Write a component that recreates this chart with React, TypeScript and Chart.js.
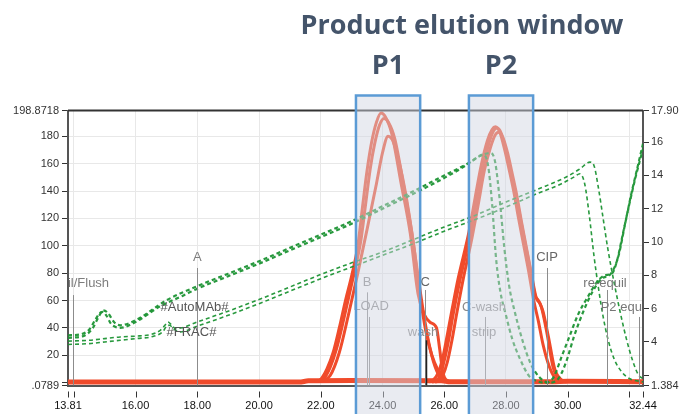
import { useEffect, useRef } from 'react';
import { Chart, registerables } from 'chart.js';

Chart.register(...registerables);

// ---------- axis ticks ----------
const xTicks = [13.81, 14, 16, 18, 20, 22, 24, 26, 28, 30, 32, 32.44];
const xTickLabels = ['13.81', '', '16.00', '18.00', '20.00', '22.00', '24.00', '26.00', '28.00', '30.00', '', '32.44'];
const yTicks = [-2.08, 0, 20, 40, 60, 80, 100, 120, 140, 160, 180, 198.8718];
const yTickLabels = ['.0789', '', '20', '40', '60', '80', '100', '120', '140', '160', '180', '198.8718'];
const y1Ticks = [1.384, 2, 4, 6, 8, 10, 12, 14, 16, 17.9];
const y1TickLabels = ['1.384', '', '4', '6', '8', '10', '12', '14', '16', '17.90'];

// ---------- UV traces (left axis) ----------
const baseX = [13.81, 21.3, 21.6, 23.0, 25.9, 26.2, 29.5, 30.0, 32.44];
const baseY = [0.4, 0.4, 1.3, 1.5, 1.3, 0.6, 0.6, 1.0, 0.6];

const r1aX = [21.8, 22.0, 22.2, 22.4, 22.6, 22.8, 23.0, 23.2, 23.35, 23.5, 23.65, 23.8, 23.95, 24.1, 24.3, 24.6, 24.9, 25.15, 25.35, 25.55, 25.75, 25.85, 25.95, 26.1, 26.3];
const r1aY = [0.8, 2.5, 10, 22, 40, 60, 78, 100, 128, 155, 176, 190, 197, 194, 182, 146, 109, 65, 50, 44, 40, 25, 8, 1.5, 0.5];
const r1bX = [22.0, 22.3, 22.6, 22.9, 23.2, 23.5, 23.8, 24.0, 24.18, 24.35, 24.55, 24.75, 24.95, 25.15, 25.35, 25.55, 25.75, 25.95, 26.2];
const r1bY = [0.8, 5, 22, 50, 80, 112, 145, 168, 180, 176, 160, 138, 110, 78, 48, 24, 9, 2, 0.5];
const r1cX = [21.9, 22.1, 22.3, 22.5, 22.7, 22.9, 23.1, 23.3, 23.45, 23.6, 23.75, 23.9, 24.05, 24.2, 24.4, 24.7, 25.0, 25.2, 25.4, 25.6, 25.8, 26.0, 26.2];
const r1cY = [0.8, 3, 11, 24, 42, 62, 82, 104, 130, 156, 175, 188, 193, 190, 178, 142, 102, 66, 38, 20, 9, 2, 0.5];

const r2aX = [25.6, 25.75, 25.86, 26.0, 26.15, 26.29, 26.5, 26.84, 27.05, 27.26, 27.45, 27.6, 27.71, 27.85, 28.0, 28.13, 28.3, 28.46, 28.62, 28.78, 28.94, 29.05, 29.15, 29.33, 29.53, 29.75, 29.95];
const r2aY = [0.5, 1.5, 5, 16, 32, 50, 74, 108, 133, 157, 175, 184, 186, 182, 170, 157, 140, 121, 102, 84, 64, 60, 55, 36, 11, 2, 0.5];
const r2bX = [25.7, 25.85, 25.95, 26.1, 26.25, 26.4, 26.6, 26.9, 27.1, 27.3, 27.5, 27.65, 27.77, 27.9, 28.05, 28.2, 28.35, 28.5, 28.66, 28.82, 28.98, 29.1, 29.2, 29.38, 29.58, 29.8, 30.0];
const r2bY = [0.5, 1.5, 5, 15, 31, 50, 74, 106, 130, 155, 172, 181, 183, 179, 168, 153, 137, 118, 99, 80, 62, 58, 52, 33, 10, 2, 0.5];
const r2cX = [25.5, 25.65, 25.8, 25.95, 26.1, 26.25, 26.45, 26.8, 27.0, 27.2, 27.4, 27.55, 27.66, 27.8, 27.95, 28.1, 28.25, 28.4, 28.57, 28.73, 28.9, 29.05, 29.2, 29.4, 29.6, 29.8];
const r2cY = [0.5, 2, 7, 18, 35, 53, 76, 110, 135, 159, 177, 185, 187, 183, 171, 156, 140, 121, 101, 82, 60, 45, 28, 12, 3, 0.5];

// ---------- conductivity traces (right axis) ----------
const g1X = [13.81, 14.2, 14.5, 14.7, 14.85, 14.95, 15.05, 15.2, 15.35, 15.5, 16.0, 16.8, 17.5, 18.0, 19.0, 20.0, 21.0, 22.0, 23.0, 24.0, 25.0, 26.0, 26.7, 27.0, 27.25, 27.42, 27.55, 27.68, 27.82, 28.0, 28.2, 28.45, 28.75, 29.0, 29.3, 29.55, 29.8, 30.05, 30.35, 30.65, 30.95, 31.2, 31.45, 31.6, 31.8, 32.0, 32.2, 32.44];
const g1Y = [4.4, 4.45, 4.75, 5.35, 5.75, 5.8, 5.6, 5.1, 4.9, 4.85, 5.2, 6.15, 6.75, 7.2, 7.95, 8.7, 9.5, 10.3, 11.1, 12.0, 12.9, 13.85, 14.6, 15.0, 15.25, 14.6, 12.3, 9.0, 7.0, 5.6, 4.2, 3.0, 1.95, 1.65, 1.55, 1.9, 3.1, 4.3, 5.7, 6.7, 7.6, 8.0, 8.15, 8.9, 10.6, 12.3, 13.9, 15.6];
const g2X = [13.81, 14.3, 14.6, 14.8, 14.95, 15.1, 15.3, 15.5, 16.0, 17.0, 18.0, 19.0, 20.0, 21.0, 22.0, 23.0, 24.0, 25.0, 26.0, 26.8, 27.2, 27.5, 27.65, 27.8, 27.95, 28.1, 28.3, 28.55, 28.8, 29.1, 29.4, 29.7, 29.95, 30.2, 30.5, 30.8, 31.1, 31.4, 31.65, 31.85, 32.05, 32.25, 32.44];
const g2Y = [4.25, 4.35, 4.8, 5.5, 5.9, 5.75, 5.2, 5.0, 5.3, 6.5, 7.35, 8.1, 8.85, 9.65, 10.45, 11.25, 12.15, 13.05, 14.0, 14.75, 15.2, 15.35, 14.8, 12.5, 9.6, 7.4, 5.7, 4.0, 2.7, 1.85, 1.55, 1.8, 2.8, 4.3, 5.8, 7.0, 7.8, 8.1, 9.2, 11.0, 12.8, 14.4, 15.9];
const g3X = [13.81, 14.5, 15.0, 15.5, 16.0, 16.5, 16.8, 16.95, 17.05, 17.15, 17.3, 17.5, 18.0, 19.0, 20.0, 21.0, 22.0, 23.0, 24.0, 25.0, 26.0, 27.0, 28.0, 29.0, 30.0, 30.4, 30.72, 30.85, 31.0, 31.15, 31.3, 31.5, 31.7, 31.9, 32.1, 32.3, 32.44];
const g3Y = [4.05, 4.1, 4.2, 4.3, 4.35, 4.45, 4.7, 5.0, 5.2, 5.05, 4.8, 4.85, 5.2, 5.85, 6.55, 7.3, 8.05, 8.75, 9.4, 10.15, 10.9, 11.6, 12.4, 13.15, 13.95, 14.4, 14.8, 14.6, 13.2, 11.4, 9.6, 7.6, 5.8, 4.2, 2.9, 2.0, 1.8];
const g4X = [13.81, 14.5, 15.0, 15.5, 16.0, 16.6, 16.9, 17.0, 17.1, 17.25, 17.45, 18.0, 19.0, 20.0, 21.0, 22.0, 23.0, 24.0, 25.0, 26.0, 27.0, 28.0, 29.0, 29.8, 30.2, 30.4, 30.55, 30.7, 30.85, 31.0, 31.15, 31.3, 31.5, 31.75, 32.0, 32.44];
const g4Y = [3.85, 3.9, 4.0, 4.1, 4.2, 4.35, 4.65, 4.95, 5.0, 4.75, 4.6, 4.95, 5.6, 6.3, 7.05, 7.8, 8.5, 9.2, 9.9, 10.65, 11.35, 12.1, 12.9, 13.5, 13.9, 14.1, 13.5, 11.6, 9.2, 7.2, 5.5, 4.2, 3.0, 2.2, 1.8, 1.6];

// ---------- events / annotations ----------
const markTimes = [13.97, 18.0, 23.5, 23.56, 25.38, 25.4, 27.32, 29.33, 31.28, 32.31];
const markTops = [64, 83.8, 66, 48, 67.7, 31, 48, 83.8, 67.7, 48];
const markDark = [false, false, false, false, false, true, false, false, false, false];

const noteTexts = ['Equil/Flush', 'A', '#AutoMAb#', '#FRAC#', 'B', 'LOAD', 'C', 'wash', 'C-wash', 'strip', 'CIP', 're-equil', 'P2 equil'];
const noteTimes = [14.1, 18.0, 17.91, 17.81, 23.5, 23.63, 25.38, 25.31, 27.29, 27.29, 29.33, 31.21, 31.83];
const noteLevels = [72.8, 91.8, 55.3, 37, 73.5, 56, 73.5, 37, 55.3, 37, 91.8, 72.8, 55.3];
const noteColors = ['#7d7d7d', '#7d7d7d', '#555', '#555', '#8a8a8a', '#8a8a8a', '#666', '#8a8a8a', '#8a8a8a', '#8a8a8a', '#666', '#777', '#777'];

const winStart = [23.14, 26.8];
const winEnd = [25.22, 28.88];
const winLabels = ['P1', 'P2'];
const titleText = 'Product elution window';

const FONT = '"Liberation Sans", Arial, sans-serif';
const RED = '#F04B2B';
const GREEN = 'rgba(28,148,52,0.95)';

const pts = (xs: number[], ys: number[]) => xs.map((x, i) => ({ x, y: ys[i] }));
const labelFor = (ticks: number[], labels: string[]) => (v: any) => {
  const i = ticks.findIndex((t) => Math.abs(t - Number(v)) < 1e-6);
  return i >= 0 ? labels[i] : '';
};

const decor = {
  id: 'decor',
  afterDatasetsDraw(chart: any) {
    const { ctx, chartArea: a, scales } = chart;
    const xs = scales.x;
    const ys = scales.y;
    ctx.save();
    ctx.beginPath();
    ctx.rect(a.left, a.top, a.right - a.left, a.bottom - a.top);
    ctx.clip();
    markTimes.forEach((t, i) => {
      const px = Math.round(xs.getPixelForValue(t)) + 0.5;
      ctx.beginPath();
      ctx.strokeStyle = markDark[i] ? '#222' : '#8c8c8c';
      ctx.lineWidth = markDark[i] ? 1.5 : 1;
      ctx.moveTo(px, ys.getPixelForValue(markTops[i]));
      ctx.lineTo(px, a.bottom);
      ctx.stroke();
    });
    ctx.font = `13px ${FONT}`;
    ctx.textAlign = 'center';
    ctx.textBaseline = 'middle';
    noteTexts.forEach((s, i) => {
      ctx.fillStyle = noteColors[i];
      ctx.fillText(s, xs.getPixelForValue(noteTimes[i]), ys.getPixelForValue(noteLevels[i]));
    });
    ctx.restore();
    ctx.save();
    ctx.strokeStyle = '#333';
    ctx.lineWidth = 2;
    ctx.beginPath();
    ctx.moveTo(a.left, a.top);
    ctx.lineTo(a.right, a.top);
    ctx.stroke();
    ctx.restore();
  },
  afterDraw(chart: any) {
    const { ctx, chartArea: a, scales } = chart;
    const xs = scales.x;
    ctx.save();
    ctx.strokeStyle = '#333';
    ctx.lineWidth = 1;
    xTicks.forEach((t) => {
      const px = Math.round(xs.getPixelForValue(t)) + 0.5;
      ctx.beginPath();
      ctx.moveTo(px, a.bottom + 6);
      ctx.lineTo(px, a.bottom + 12);
      ctx.stroke();
    });
    winStart.forEach((s, i) => {
      const l = xs.getPixelForValue(s);
      const r = xs.getPixelForValue(winEnd[i]);
      const top = a.top - 15;
      const bot = chart.height + 4;
      ctx.fillStyle = 'rgba(208,213,226,0.48)';
      ctx.fillRect(l, top, r - l, bot - top);
      ctx.strokeStyle = '#5B9BD5';
      ctx.lineWidth = 2.5;
      ctx.strokeRect(l, top, r - l, bot - top);
      ctx.fillStyle = '#44546A';
      ctx.font = 'bold 27px "Open Sans"';
      ctx.textAlign = 'center';
      ctx.textBaseline = 'alphabetic';
      ctx.fillText(winLabels[i], (l + r) / 2, a.top - 37);
    });
    ctx.fillStyle = '#44546A';
    ctx.font = 'bold 27px "Open Sans"';
    ctx.textAlign = 'center';
    ctx.textBaseline = 'alphabetic';
    ctx.fillText(titleText, 462, 34);
    ctx.restore();
  },
};

export default function App() {
  const ref = useRef<HTMLCanvasElement>(null);
  useEffect(() => {
    document.body.style.margin = '0';
    const green = (xs: number[], ys: number[], w: number) => ({
      data: pts(xs, ys),
      yAxisID: 'y1',
      borderColor: GREEN,
      borderWidth: w,
      borderDash: [4, 3],
      pointRadius: 0,
      cubicInterpolationMode: 'monotone' as const,
    });
    const red = (xs: number[], ys: number[], w: number) => ({
      data: pts(xs, ys),
      yAxisID: 'y',
      borderColor: RED,
      borderWidth: w,
      pointRadius: 0,
      cubicInterpolationMode: 'monotone' as const,
    });
    const tickFont = { family: FONT, size: 11 };
    const chart = new Chart(ref.current as HTMLCanvasElement, {
      type: 'line',
      data: {
        datasets: [
          green(g1X, g1Y, 2.2),
          green(g2X, g2Y, 2.2),
          green(g3X, g3Y, 1.6),
          green(g4X, g4Y, 1.6),
          red(r1aX, r1aY, 3),
          red(r1bX, r1bY, 3),
          red(r1cX, r1cY, 3),
          red(r2aX, r2aY, 3),
          red(r2bX, r2bY, 3),
          red(r2cX, r2cY, 3),
          red(baseX, baseY, 5),
        ] as any,
      },
      options: {
        animation: false,
        responsive: false,
        layout: { padding: { top: 110.5, left: 0, right: 0, bottom: 0 } },
        plugins: { legend: { display: false }, tooltip: { enabled: false }, title: { display: false } },
        scales: {
          x: {
            type: 'linear',
            min: 13.81,
            max: 32.44,
            afterBuildTicks: (s: any) => { s.ticks = xTicks.map((v) => ({ value: v })); },
            afterFit: (s: any) => { s.height = 28.5; },
            grid: { color: '#e8e8e8', drawTicks: false },
            border: { display: true, color: '#555', width: 2 },
            ticks: { autoSkip: false, maxRotation: 0, padding: 14, color: '#111', font: tickFont, callback: labelFor(xTicks, xTickLabels) },
          },
          y: {
            type: 'linear',
            position: 'left',
            min: -2.08,
            max: 198.8718,
            afterBuildTicks: (s: any) => { s.ticks = yTicks.map((v) => ({ value: v })); },
            afterFit: (s: any) => { s.width = 68; },
            grid: { color: '#e8e8e8', tickColor: '#333', tickLength: 6 },
            border: { display: true, color: '#555', width: 2 },
            ticks: { autoSkip: false, padding: 3, color: '#333', font: tickFont, callback: labelFor(yTicks, yTickLabels) },
          },
          y1: {
            type: 'linear',
            position: 'right',
            min: 1.384,
            max: 17.9,
            afterBuildTicks: (s: any) => { s.ticks = y1Ticks.map((v) => ({ value: v })); },
            afterFit: (s: any) => { s.width = 36; },
            grid: { drawOnChartArea: false, tickColor: '#333', tickLength: 6 },
            border: { display: true, color: '#555', width: 2 },
            ticks: { autoSkip: false, padding: 2, color: '#333', font: tickFont, callback: labelFor(y1Ticks, y1TickLabels) },
          },
        },
      } as any,
      plugins: [decor],
    });
    return () => chart.destroy();
  }, []);
  return (
    <div style={{ position: 'absolute', left: 0, top: 0, width: 679, height: 414, background: '#fff' }}>
      <canvas ref={ref} width={679} height={414} style={{ display: 'block' }} />
    </div>
  );
}
